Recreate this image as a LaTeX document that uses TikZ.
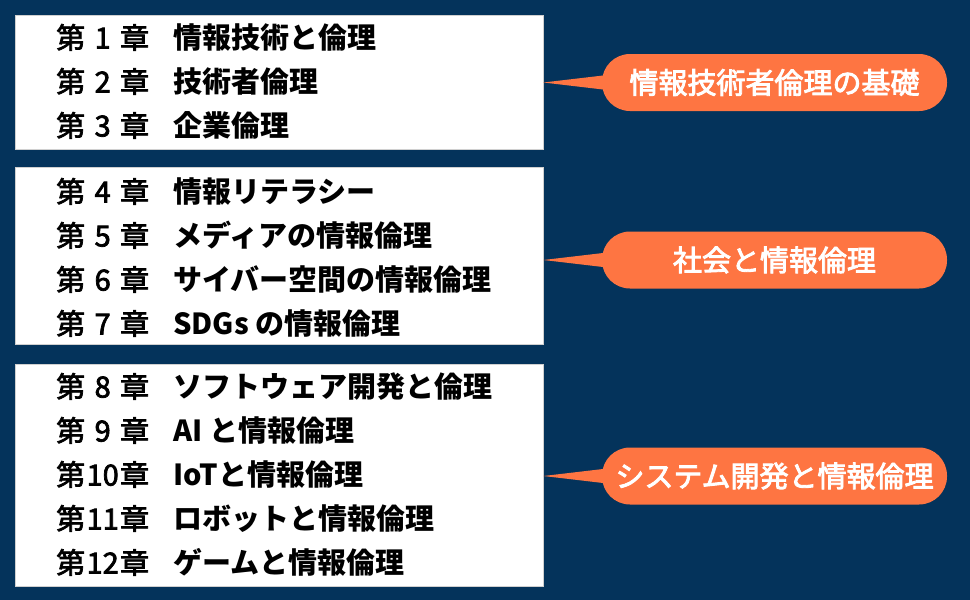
\documentclass[tikz,border=0pt]{standalone}
\usepackage{fontspec}
\setmainfont{Noto Sans CJK JP}
\newfontfamily\medfont{Noto Sans CJK JP}[FakeBold=2.5]
\newfontfamily\callfont{Noto Sans CJK JP}[FakeBold=3]
\usetikzlibrary{calc}
\definecolor{navy}{HTML}{04335B}
\definecolor{callorange}{HTML}{FE7542}
\definecolor{boxedge}{HTML}{D0D0D0}
\newcommand\chp[1]{第\makebox[35pt]{#1}章}
\tikzset{
  chapbox/.style={fill=white, draw=boxedge, line width=0.8pt, minimum width=528pt, inner sep=0pt},
  chaplabel/.style={anchor=base west, inner sep=0pt, font=\fontsize{29pt}{29pt}\medfont, text=black},
  chaptitle/.style={anchor=base west, inner sep=0pt, font=\fontsize{29pt}{29pt}\selectfont\bfseries, text=black},
  callout/.style={fill=callorange, rounded corners=28pt, minimum width=345pt, minimum height=57pt, inner sep=0pt,
    font=\fontsize{29pt}{29pt}\callfont, text=white},
  pointer/.style={fill=callorange}
}
\begin{document}
\begin{tikzpicture}[x=1pt, y=-1pt]
\fill[navy] (0,0) rectangle (970,600);
\useasboundingbox (0,0) rectangle (970,600);
% boxes
\node[chapbox, minimum height=134pt] (b1) at (279,82) {};
\node[chapbox, minimum height=177pt] (b2) at (279,255.5) {};
\node[chapbox, minimum height=222pt] (b3) at (279,475) {};
% rows
\def\bl{10.5}
\node[chaplabel] (c1) at (56,38+\bl) {\chp{1}};
\node[chaptitle] (t1) at (173,38+\bl) {情報技術と倫理};
\node[chaplabel] (c2) at (56,82+\bl) {\chp{2}};
\node[chaptitle] (t2) at (173,82+\bl) {技術者倫理};
\node[chaplabel] (c3) at (56,126+\bl) {\chp{3}};
\node[chaptitle] (t3) at (173,126+\bl) {企業倫理};
\node[chaplabel] (c4) at (56,192+\bl) {\chp{4}};
\node[chaptitle] (t4) at (173,192+\bl) {情報リテラシー};
\node[chaplabel] (c5) at (56,236+\bl) {\chp{5}};
\node[chaptitle] (t5) at (173,236+\bl) {メディアの情報倫理};
\node[chaplabel] (c6) at (56,280+\bl) {\chp{6}};
\node[chaptitle] (t6) at (173,280+\bl) {サイバー空間の情報倫理};
\node[chaplabel] (c7) at (56,324+\bl) {\chp{7}};
\node[chaptitle] (t7) at (173,324+\bl) {SDGs の情報倫理};
\node[chaplabel] (c8) at (56,387+\bl) {\chp{8}};
\node[chaptitle] (t8) at (173,387+\bl) {ソフトウェア開発と倫理};
\node[chaplabel] (c9) at (56,431+\bl) {\chp{9}};
\node[chaptitle] (t9) at (173,431+\bl) {AI と情報倫理};
\node[chaplabel] (c10) at (56,475+\bl) {\chp{10}};
\node[chaptitle] (t10) at (173,475+\bl) {IoTと情報倫理};
\node[chaplabel] (c11) at (56,519+\bl) {\chp{11}};
\node[chaptitle] (t11) at (173,519+\bl) {ロボットと情報倫理};
\node[chaplabel] (c12) at (56,563+\bl) {\chp{12}};
\node[chaptitle] (t12) at (173,563+\bl) {ゲームと情報倫理};
% callouts
\node[callout] (p1) at (774.5,82.5) {情報技術者倫理の基礎};
\node[callout] (p2) at (774.5,260) {社会と情報倫理};
\node[callout] (p3) at (774.5,476) {システム開発と情報倫理};
% pointers
\foreach \b/\p in {b1/p1, b2/p2, b3/p3}{
  \fill[pointer] (\b.east |- \p.west) -- ($(\p.west)+(14,-8.5)$) -- ($(\p.west)+(14,8.5)$) -- cycle;
}
\end{tikzpicture}
\end{document}
